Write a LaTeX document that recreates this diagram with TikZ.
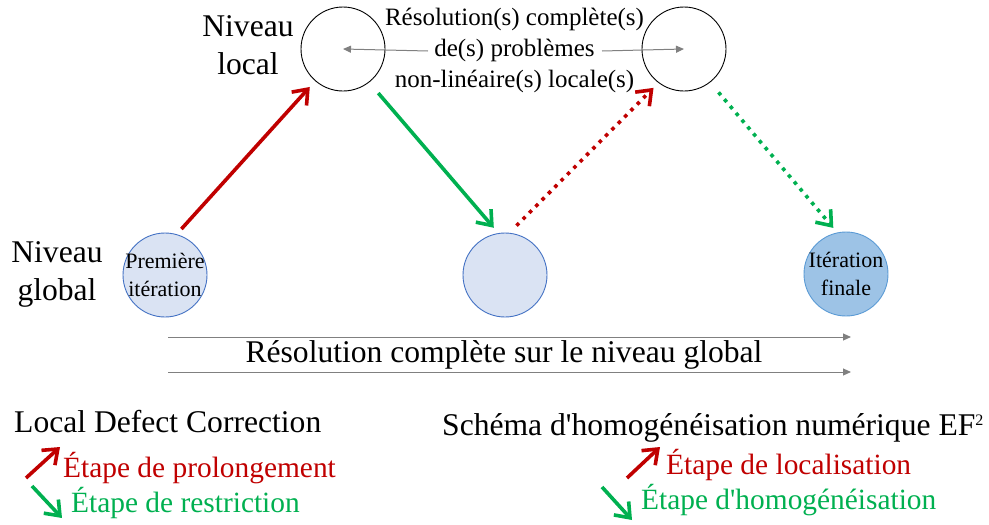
\documentclass[tikz,border=0pt]{standalone}
\usepackage{fontspec}
\setmainfont{Liberation Serif}[Ligatures=TeXOff]
\usetikzlibrary{arrows.meta}
\definecolor{redstep}{HTML}{C00000}
\definecolor{greenstep}{HTML}{00B050}
\definecolor{guide}{HTML}{808080}
\definecolor{globfill}{HTML}{DAE3F3}
\definecolor{globedge}{HTML}{4472C4}
\definecolor{finfill}{HTML}{9DC3E6}
\definecolor{finedge}{HTML}{5B9BD5}
\begin{document}
\begin{tikzpicture}[x=1pt,y=-1pt,
  localnode/.style={circle,draw=black,line width=0.9pt,minimum size=84pt,inner sep=0pt},
  globalnode/.style={circle,draw=globedge,fill=globfill,line width=0.9pt,minimum size=84pt,inner sep=0pt},
  finalnode/.style={globalnode,draw=finedge,fill=finfill},
  big/.style={font=\fontsize{31.6}{38}\selectfont,inner sep=0pt},
  mid/.style={font=\fontsize{25}{31}\selectfont,inner sep=0pt},
  small/.style={font=\fontsize{22}{28}\selectfont,align=center,inner sep=0pt},
  legend/.style={font=\fontsize{29.4}{34}\selectfont,inner sep=0pt,anchor=base west},
  steparrow/.style={line width=3.6pt,-{Straight Barb[length=13pt,width=20pt]}},
  prolong/.style={steparrow,draw=redstep},
  restrict/.style={steparrow,draw=greenstep},
  dotline/.style={dash pattern=on 3.6pt off 5.4pt},
  guidearrow/.style={draw=guide,line width=1pt,-{Triangle[length=8pt,width=7pt]}},
]
\useasboundingbox (0,0) rectangle (989,525);

% local level
\node[localnode] (l1) at (343,49) {};
\node[localnode] (l2) at (684,49) {};
% global level
\node[globalnode,label={[small]center:Première\\itération}] (g1) at (165,275) {};
\node[globalnode] (g2) at (505,275) {};
\node[finalnode,label={[small]center:Itération\\finale}] (g3) at (846,274) {};

% level names (base anchor = baseline of the last line)
\node[big,align=center,anchor=base] (nl) at (248,74) {Niveau\\local};
\node[big,align=center,anchor=base] (ng) at (57,300) {Niveau\\global};

% local solves
\node[mid,align=center,anchor=base] (res) at (514.5,87)
  {Résolution(s) complète(s)\\de(s) problèmes\\non-linéaire(s) locale(s)};
\coordinate (ra) at (428,51);
\coordinate (rb) at (602,51);
\draw[guidearrow] (ra) -- (l1.center);
\draw[guidearrow] (rb) -- (l2.center);

% steps
\draw[prolong,shorten <=7pt,shorten >=8pt] (g1.74.5) -- (l1.229);
\draw[restrict,shorten <=14pt,shorten >=7pt] (l1.308.5) -- (g2.99.5);
\draw[prolong,dotline,shorten <=10pt,shorten >=7pt] (g2.84.5) -- (l2.233.4);
\draw[restrict,dotline,shorten <=13pt,shorten >=6pt] (l2.308.3) -- (g3.102);

% global solve
\coordinate (ga) at (168,337);
\coordinate (gb) at (851,337);
\coordinate (gc) at (168,372);
\coordinate (gd) at (851,372);
\draw[guidearrow] (ga) -- (gb);
\draw[guidearrow] (gc) -- (gd);
\node[big,anchor=base] (gs) at (504,362) {Résolution complète sur le niveau global};

% legends
\node[big,anchor=base west] (ldc) at (14,432) {Local Defect Correction};
\coordinate (ldr1) at (26,478);
\coordinate (ldr2) at (60,447);
\coordinate (ldg1) at (32,486);
\coordinate (ldg2) at (62,518);
\draw[prolong] (ldr1) -- (ldr2);
\draw[restrict] (ldg1) -- (ldg2);
\node[legend,text=redstep] (ldcp) at (63,477) {Étape de prolongement};
\node[legend,text=greenstep] (ldcr) at (71,512) {Étape de restriction};

\node[big,anchor=base west] (ef) at (442,435)
  {Schéma d'homogénéisation numérique EF\raisebox{10pt}{\fontsize{16}{16}\selectfont 2}};
\coordinate (efr1) at (627,478);
\coordinate (efr2) at (660,447);
\coordinate (efg1) at (602,487);
\coordinate (efg2) at (632,520);
\draw[prolong] (efr1) -- (efr2);
\draw[restrict] (efg1) -- (efg2);
\node[legend,text=redstep] (efl) at (666,474) {Étape de localisation};
\node[legend,text=greenstep] (efh) at (641,509) {Étape d'homogénéisation};
\end{tikzpicture}
\end{document}
